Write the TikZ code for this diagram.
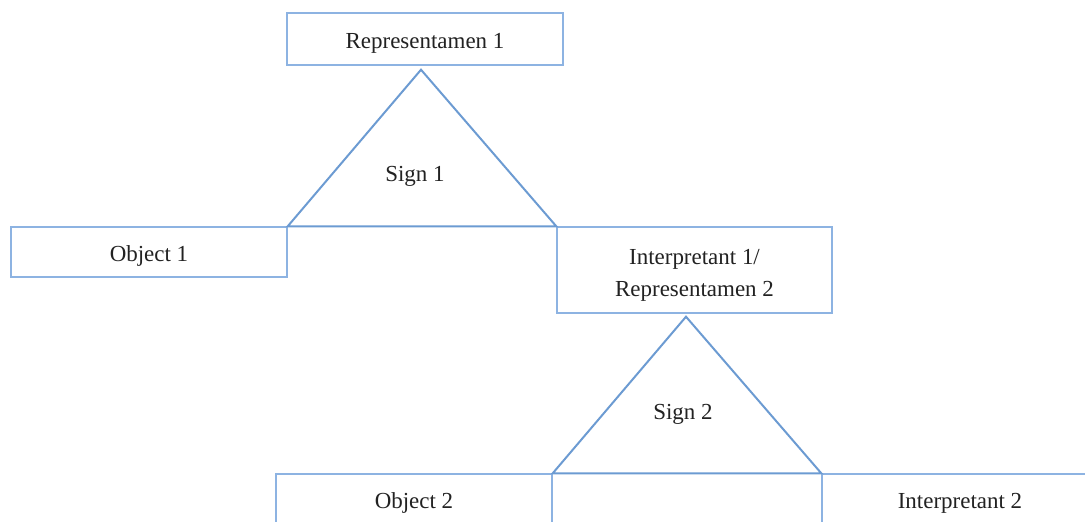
\documentclass[tikz,border=0pt]{standalone}
\usepackage{fontspec}
\setmainfont{Liberation Serif}
\usetikzlibrary{calc}
\definecolor{BoxBlue}{HTML}{8DB3E2}
\definecolor{SignBlue}{HTML}{6C9BD2}
\definecolor{TextGray}{HTML}{222222}
\tikzset{
  termbox/.style={draw=BoxBlue, line width=0.6pt, fill=white, align=center, minimum width=276*0.015cm, minimum height=50*0.015cm, inner sep=2pt, text height=1.04em, text depth=0.22em, text=TextGray, font=\fontsize{9.8}{13.6}\selectfont},
  signline/.style={draw=SignBlue, line width=0.85pt, line join=miter},
  signlabel/.style={text=TextGray, font=\fontsize{9.8}{13.6}\selectfont}
}

\begin{document}
\begin{tikzpicture}[x=0.015cm, y=-0.015cm]
\useasboundingbox (0,0) rectangle (1085,521);
\clip (0,0) rectangle (1085,521);
% first triad
\node[termbox, minimum height=52*0.015cm] (rep1) at (425,39) {Representamen 1};
\node[termbox] (obj1) at (149,252) {Object 1};
\node[termbox, minimum width=275*0.015cm, minimum height=86*0.015cm, text height=24.8pt] (int1) at (694.5,270) {Interpretant 1/\\Representamen 2};
\coordinate (top1) at ($(rep1.south)+(-4,4)$);
\draw[signline] (obj1.north east) -- (top1) -- (int1.north west) -- cycle;
\node[signlabel] (sign1) at (415,176) {Sign 1};
% second triad
\node[termbox] (obj2) at (414,499) {Object 2};
\node[termbox] (int2) at (960,499) {Interpretant 2};
\coordinate (top2) at ($(int1.south)+(-8.5,3)$);
\draw[signline] (obj2.north east) -- (top2) -- (int2.north west) -- cycle;
\node[signlabel] (sign2) at (683,414) {Sign 2};
\end{tikzpicture}
\end{document}
